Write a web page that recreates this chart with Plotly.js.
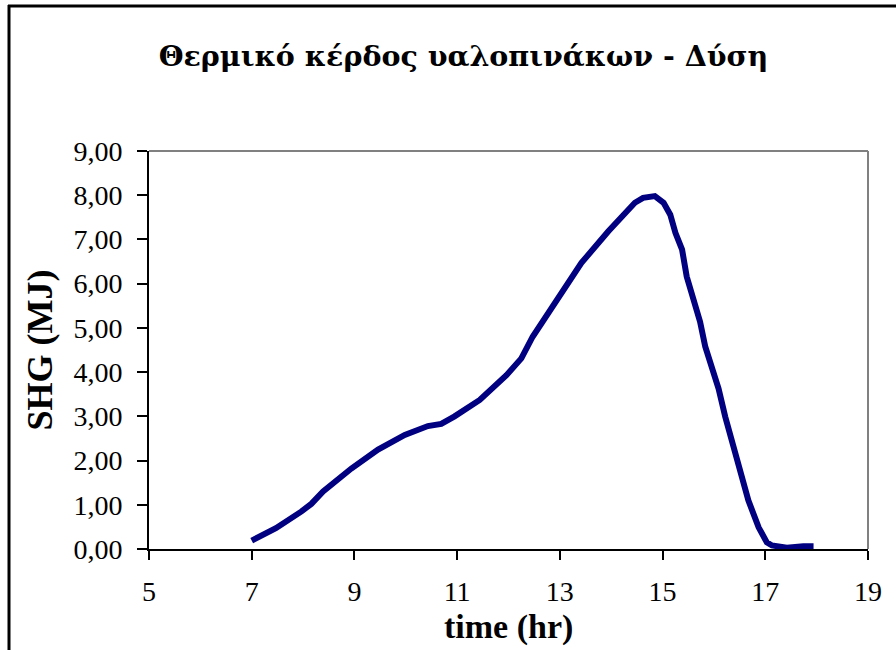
<!DOCTYPE html>
<html>
<head>
<meta charset="utf-8">
<script src="https://cdn.plot.ly/plotly-3.0.1.min.js"></script>
<style>html,body{margin:0;padding:0;background:#fff;}#chart{width:896px;height:650px;}</style>
</head>
<body>
<div id="chart"></div>
<script>
var hours = [7.0, 7.47, 7.97, 8.16, 8.39, 8.94, 9.46, 9.98, 10.43, 10.69, 10.95, 11.44, 11.96, 12.25, 12.47, 12.73, 12.96, 13.42, 13.94, 14.17, 14.46, 14.62, 14.79, 14.85, 15.02, 15.15, 15.25, 15.38, 15.47, 15.73, 15.83, 15.96, 16.09, 16.22, 16.48, 16.67, 16.87, 17.03, 17.13, 17.42, 17.74, 17.94];
var shg = [0.19, 0.47, 0.85, 1.02, 1.30, 1.82, 2.25, 2.58, 2.78, 2.83, 3.00, 3.37, 3.93, 4.31, 4.80, 5.26, 5.71, 6.47, 7.18, 7.45, 7.83, 7.94, 7.99, 7.98, 7.83, 7.56, 7.15, 6.77, 6.16, 5.14, 4.58, 4.09, 3.63, 2.99, 1.89, 1.10, 0.49, 0.15, 0.08, 0.03, 0.06, 0.06];
var xTicks = [5, 7, 9, 11, 13, 15, 17, 19];
var yTicks = [0, 1, 2, 3, 4, 5, 6, 7, 8, 9];
var yTickText = ["0,00", "1,00", "2,00", "3,00", "4,00", "5,00", "6,00", "7,00", "8,00", "9,00"];
var titleText = "Θερμικό κέρδος υαλοπινάκων - Δύση";
var xTitle = "time (hr)";
var yTitle = "SHG (MJ)";

var W = 896, H = 650;
var L = 149, R = 28, T = 151, B = 101;
var pw = W - L - R, ph = H - T - B;
function px2x(p){ return (p - L) / pw; }
function py2y(p){ return (H - B - p) / ph; }

var serif = "Liberation Serif, Times New Roman, serif";
var greekSerif = "DejaVu Serif, serif";

var trace = {
  x: hours, y: shg, type: "scatter", mode: "lines",
  line: {color: "#000080", width: 6},
  hoverinfo: "skip"
};

var layout = {
  width: W, height: H,
  margin: {l: L, r: R, t: T, b: B, pad: 0},
  paper_bgcolor: "#fff", plot_bgcolor: "#fff",
  showlegend: false,
  font: {family: serif, color: "#000"},
  title: {text: "<b>" + titleText + "</b>", font: {family: greekSerif, size: 28.5, color: "#000"},
          x: 463.5 / W, xanchor: "center", xref: "container", y: 1 - 56 / H, yanchor: "middle", yref: "container"},
  xaxis: {
    range: [5, 19], tickvals: xTicks, ticktext: xTicks.map(String),
    showgrid: false, zeroline: false,
    showline: true, linecolor: "#000", linewidth: 2,
    ticks: "outside", ticklen: 9, tickwidth: 2, tickcolor: "#000",
    ticklabelstandoff: 7,
    tickfont: {family: serif, size: 28, color: "#000"}
  },
  yaxis: {
    range: [0, 9], tickvals: yTicks, ticktext: yTickText,
    showgrid: false, zeroline: false,
    showline: true, linecolor: "#000", linewidth: 2,
    ticks: "outside", ticklen: 10, tickwidth: 2, tickcolor: "#000",
    ticklabelstandoff: 9,
    tickfont: {family: serif, size: 28, color: "#000"},
    title: {text: "<b>" + yTitle + "</b>", font: {family: serif, size: 36, color: "#000"}, standoff: 10}
  },
  annotations: [
    {text: "<b>" + xTitle + "</b>", xref: "paper", yref: "paper", x: 0.5, y: py2y(627), xanchor: "center", yanchor: "middle",
     showarrow: false, font: {family: serif, size: 34, color: "#000"}}
  ],
  shapes: [
    {type: "line", xref: "paper", yref: "paper", x0: 0, x1: 1, y0: 1, y1: 1, line: {color: "#808080", width: 2}},
    {type: "line", xref: "paper", yref: "paper", x0: 1, x1: 1, y0: 0, y1: 1, line: {color: "#808080", width: 2}},
    {type: "line", xref: "paper", yref: "paper", x0: px2x(9), x1: px2x(9), y0: py2y(652), y1: py2y(5), line: {color: "#000", width: 3}},
    {type: "line", xref: "paper", yref: "paper", x0: px2x(8), x1: px2x(900), y0: py2y(6), y1: py2y(6), line: {color: "#000", width: 3}}
  ]
};

Plotly.newPlot("chart", [trace], layout, {displayModeBar: false, staticPlot: true});
</script>
</body>
</html>
